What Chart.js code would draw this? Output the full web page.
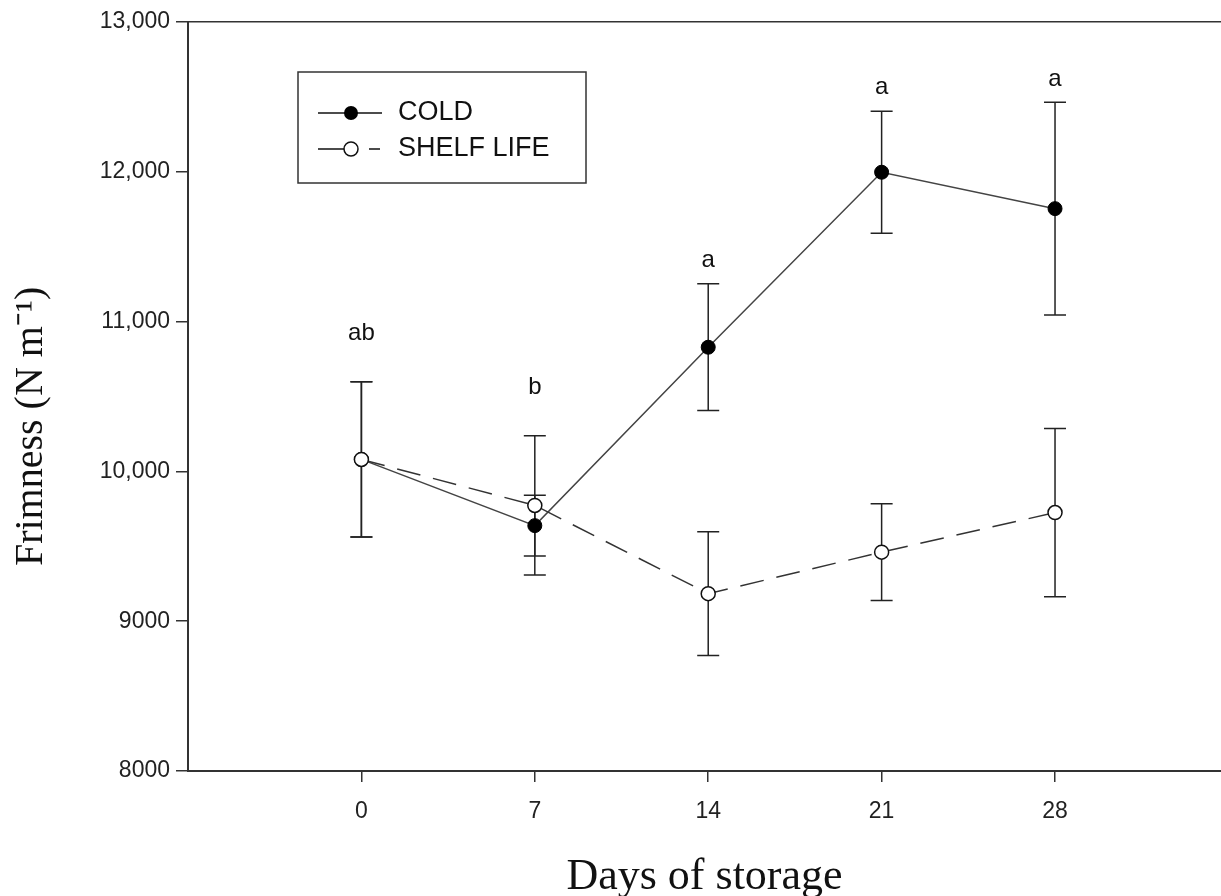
<!DOCTYPE html>
<html>
<head>
<meta charset="utf-8">
<title>Firmness during storage</title>
<script src="https://cdn.jsdelivr.net/npm/chart.js@4.4.1/dist/chart.umd.min.js"></script>
<style>
    html, body { margin: 0; padding: 0; background: #fff; }
    #wrap { width: 1221px; height: 896px; }
</style>
</head>
<body>
<div id="wrap"><canvas id="graphCanvas"></canvas></div>
<script>
// Values
const days = [0, 7, 14, 21, 28];
const coldMean = [10080, 9638, 10829, 11997, 11754];
const coldErr = [518, 202, 423, 408, 710];
const shelfMean = [10080, 9773, 9184, 9461, 9725];
const shelfErr = [518, 465, 413, 323, 562];
const sigLetters = ["ab", "b", "a", "a", "a"];
const sigLetterY = [10924, 10563, 11411, 12566, 12620];
const yTicks = [8000, 9000, 10000, 11000, 12000, 13000];
const yTitle = "Frimness (N m⁻¹)";

const sansFont = "'Liberation Sans', Arial, sans-serif";
const serifFont = "'Liberation Serif', 'Times New Roman', serif";

// Error bars go under the points
const errorBars = {
    id: "errorBars",
    beforeDatasetsDraw(chart) {
        const ctx = chart.ctx;
        const x = chart.scales.x;
        const y = chart.scales.y;
        ctx.save();
        ctx.strokeStyle = "#222";
        ctx.lineWidth = 1.5;
        chart.data.datasets.forEach((ds) => {
            ds.data.forEach((p, i) => {
                const px = x.getPixelForValue(p.x);
                const top = y.getPixelForValue(p.y + ds.errors[i]);
                const bot = y.getPixelForValue(p.y - ds.errors[i]);
                ctx.beginPath();
                ctx.moveTo(px, top);
                ctx.lineTo(px, bot);
                ctx.moveTo(px - 11, top);
                ctx.lineTo(px + 11, top);
                ctx.moveTo(px - 11, bot);
                ctx.lineTo(px + 11, bot);
                ctx.stroke();
            });
        });
        ctx.restore();
    }
};

// Significance letters + the y title (sits a bit below centre in the original)
const letters = {
    id: "letters",
    afterDatasetsDraw(chart) {
        const ctx = chart.ctx;
        const x = chart.scales.x;
        const y = chart.scales.y;
        ctx.save();
        ctx.fillStyle = "#111";
        ctx.font = "24px " + sansFont;
        ctx.textAlign = "center";
        ctx.textBaseline = "middle";
        sigLetters.forEach((t, i) => {
            ctx.fillText(t, x.getPixelForValue(days[i]), y.getPixelForValue(sigLetterY[i]));
        });

        ctx.translate(31, y.getPixelForValue(10300));
        ctx.rotate(-Math.PI / 2);
        ctx.font = "40px " + serifFont;
        ctx.fillText(yTitle, 0, 0);
        ctx.restore();
    }
};

// Boxed legend inside the plot
const boxLegend = {
    id: "boxLegend",
    afterDraw(chart) {
        const ctx = chart.ctx;
        const a = chart.chartArea;
        const x0 = a.left + 110, y0 = a.top + 50;
        ctx.save();
        ctx.strokeStyle = "#333";
        ctx.lineWidth = 1.5;
        ctx.strokeRect(x0, y0, 288, 111);

        // COLD
        let ry = y0 + 41;
        ctx.strokeStyle = "#111";
        ctx.beginPath();
        ctx.moveTo(x0 + 20, ry);
        ctx.lineTo(x0 + 84, ry);
        ctx.stroke();
        ctx.fillStyle = "#000";
        ctx.beginPath();
        ctx.arc(x0 + 53, ry, 7, 0, Math.PI * 2);
        ctx.fill();

        // SHELF LIFE
        ry = y0 + 77;
        ctx.beginPath();
        ctx.moveTo(x0 + 20, ry);
        ctx.lineTo(x0 + 46, ry);
        ctx.moveTo(x0 + 71, ry);
        ctx.lineTo(x0 + 82, ry);
        ctx.stroke();
        ctx.fillStyle = "#fff";
        ctx.beginPath();
        ctx.arc(x0 + 53, ry, 7, 0, Math.PI * 2);
        ctx.fill();
        ctx.stroke();

        ctx.fillStyle = "#111";
        ctx.font = "27px " + sansFont;
        ctx.textAlign = "left";
        ctx.textBaseline = "middle";
        ctx.fillText(chart.data.datasets[0].label, x0 + 100, y0 + 41);
        ctx.fillText(chart.data.datasets[1].label, x0 + 100, y0 + 77);
        ctx.restore();
    }
};

function toPoints(means) {
    return days.map((d, i) => ({ x: d, y: means[i] }));
}

let chartInstance;

function drawGraph() {
    const ctx = document.getElementById("graphCanvas").getContext("2d");
    chartInstance = new Chart(ctx, {
        type: "line",
        data: {
            datasets: [{
                label: "COLD",
                data: toPoints(coldMean),
                errors: coldErr,
                borderColor: "#444",
                borderWidth: 1.5,
                pointRadius: 7,
                pointBackgroundColor: "#000",
                pointBorderColor: "#000",
                pointBorderWidth: 1,
                order: 1
            }, {
                label: "SHELF LIFE",
                data: toPoints(shelfMean),
                errors: shelfErr,
                borderColor: "#333",
                borderWidth: 1.5,
                borderDash: [24, 13],
                pointRadius: 7,
                pointBackgroundColor: "#fff",
                pointBorderColor: "#111",
                pointBorderWidth: 1.5,
                order: 0
            }]
        },
        options: {
            responsive: true,
            maintainAspectRatio: false,
            animation: false,
            layout: { autoPadding: false, padding: { top: 22, right: 0, bottom: 0, left: 0 } },
            plugins: {
                legend: { display: false },
                tooltip: { enabled: false }
            },
            scales: {
                x: {
                    type: "linear",
                    min: -7,
                    max: 34.7,
                    afterBuildTicks: (s) => { s.ticks = days.map((v) => ({ value: v })); },
                    afterFit: (s) => { s.height = 125; },
                    grid: { drawOnChartArea: false, drawTicks: true, tickLength: 11, tickColor: "#333", lineWidth: 1.5 },
                    border: { color: "#333", width: 2 },
                    ticks: { color: "#222", padding: 16, font: { family: sansFont, size: 23 } },
                    title: {
                        display: true,
                        text: "Days of storage",
                        color: "#111",
                        padding: { top: 0, bottom: 0 },
                        font: { family: serifFont, size: 44, lineHeight: 0.85 }
                    }
                },
                y: {
                    min: 8000,
                    max: 13000,
                    afterBuildTicks: (s) => { s.ticks = yTicks.map((v) => ({ value: v })); },
                    afterFit: (s) => { s.width = 188; },
                    grid: {
                        drawOnChartArea: true,
                        drawTicks: true,
                        tickLength: 12,
                        tickColor: "#333",
                        lineWidth: 1.5,
                        color: (c) => (c.tick && c.tick.value === 13000 ? "#333" : "rgba(0,0,0,0)")
                    },
                    border: { color: "#333", width: 2 },
                    ticks: {
                        color: "#222",
                        padding: 6,
                        font: { family: sansFont, size: 23 },
                        callback: (v) => (v >= 10000 ? v.toLocaleString("en-US") : String(v))
                    },
                    title: { display: false }
                }
            }
        },
        plugins: [errorBars, letters, boxLegend]
    });
}

window.onload = drawGraph;
</script>
</body>
</html>
